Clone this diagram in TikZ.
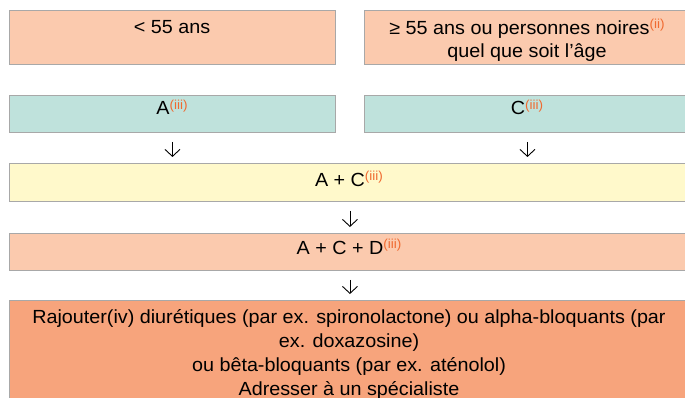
\documentclass[tikz,border=0pt]{standalone}
\usepackage{fontspec}
\setmainfont{Liberation Sans}[FakeStretch=1.04]
\usetikzlibrary{arrows.meta,calc}
\definecolor{peach}{HTML}{FBCAAE}
\definecolor{teal}{HTML}{BFE2DC}
\definecolor{pyellow}{HTML}{FFF9CB}
\definecolor{porange}{HTML}{F7A47C}
\definecolor{bgray}{HTML}{A8A8A8}
\definecolor{supc}{HTML}{F06A30}
\newcommand{\sref}[1]{\raisebox{5.5pt}{\fontsize{13}{13}\selectfont\color{supc}(#1)}}
\newcommand{\fstrut}{\rule{0pt}{20pt}}
\tikzset{
  box/.style={draw=bgray, line width=0.9pt, anchor=north west, inner sep=0pt},
  txt/.style={font=\fontsize{19}{24}\selectfont, align=center, inner sep=0pt, anchor=base},
  mtxt/.style={font=\fontsize{19}{24}\selectfont, align=center, inner sep=0pt, anchor=north},
  arr/.style={line width=0.9pt, -{Straight Barb[length=7pt,width=15pt,line width=0.9pt]}, shorten <=9pt, shorten >=6pt}
}
\begin{document}
\begin{tikzpicture}[x=1pt,y=-1pt]
\useasboundingbox (0,0) rectangle (685,398);
\clip (0,0) rectangle (685,398);
\node[box, fill=peach, minimum width=326pt, minimum height=54pt] (b1) at (9,10) {};
\node[box, fill=peach, minimum width=326pt, minimum height=54pt] (b2) at (364,10) {};
\node[box, fill=teal, minimum width=326pt, minimum height=37pt] (bA) at (9,95) {};
\node[box, fill=teal, minimum width=326pt, minimum height=37pt] (bC) at (364,95) {};
\node[box, fill=pyellow, minimum width=681pt, minimum height=38pt] (bAC) at (9,163) {};
\node[box, fill=peach, minimum width=681pt, minimum height=37pt] (bACD) at (9,233) {};
\node[box, fill=porange, minimum width=681pt, minimum height=110pt] (bR) at (9,300) {};

\node[txt] (t1) at (172,33.5) {< 55 ans};
\node[mtxt, font=\fontsize{19}{23}\selectfont] (t2) at (527,14) {\fstrut≥ 55 ans ou personnes noires\sref{ii}\\quel que soit l’âge};
\node[txt] (tA) at (172,115) {A\sref{iii}};
\node[txt] (tC) at (527,115) {C\sref{iii}};
\node[txt] (tAC) at (349,186) {A + C\sref{iii}};
\node[txt] (tACD) at (349,254) {A + C + D\sref{iii}};
\node[mtxt] (tR) at (349,303.3) {\fstrut Rajouter(iv) diurétiques (par ex. spironolactone) ou alpha-bloquants (par\\ex. doxazosine)\\ou bêta-bloquants (par ex. aténolol)\\Adresser à un spécialiste};

\draw[arr] (bA.south) -- (bA.south |- bAC.north);
\draw[arr] (bC.south) -- (bC.south |- bAC.north);
\draw[arr] (bAC.south) -- (bACD.north);
\draw[arr] (bACD.south) -- (bR.north);
\end{tikzpicture}
\end{document}
